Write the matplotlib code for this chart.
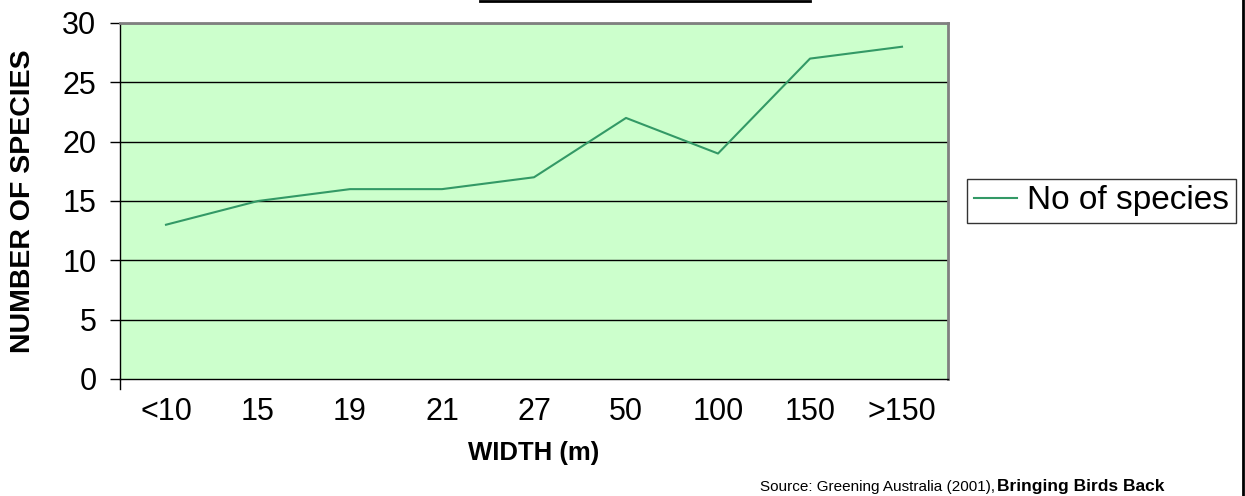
import matplotlib
matplotlib.use('Agg')
import matplotlib.pyplot as plt
from matplotlib.lines import Line2D

plt.rcParams['font.family'] = ['Liberation Sans', 'DejaVu Sans']

widths = ['<10', '15', '19', '21', '27', '50', '100', '150', '>150']
species = [13, 15, 16, 16, 17, 22, 19, 27, 28]

fig = plt.figure(figsize=(12.45, 4.96), dpi=100)
ax = fig.add_axes([120/1245, 1 - 379/496, 828/1245, 356/496])
ax.set_facecolor('#CCFFCC')

x = list(range(len(widths)))
ax.plot(x, species, color='#339966', lw=1.5, label='No of species')

ax.set_xlim(-0.5, len(widths) - 0.5)
ax.set_ylim(0, 30)
ax.set_yticks(range(0, 31, 5))
for yv in range(5, 31, 5):
    ax.axhline(yv, color='black', lw=1, zorder=1)

ax.set_xticks(x)
ax.set_xticklabels(widths)
ax.tick_params(axis='x', length=0, pad=13, labelsize=22)
ax.tick_params(axis='y', length=7, width=1, direction='out', pad=10, labelsize=22)
# the one boundary tick at the origin
ax.plot([-0.5, -0.5], [0, -10/356], transform=ax.get_xaxis_transform(), color='black',
        lw=1, clip_on=False)

for side in ['top', 'right']:
    ax.spines[side].set_color('#808080')
    ax.spines[side].set_linewidth(2)
for side in ['left', 'bottom']:
    ax.spines[side].set_color('black')
    ax.spines[side].set_linewidth(1)

ax.set_ylabel('NUMBER OF SPECIES', fontsize=20.5, fontweight='bold', labelpad=19)
ax.set_xlabel('WIDTH (m)', fontsize=18.5, fontweight='bold', labelpad=10)

leg = fig.legend(loc='center left', bbox_to_anchor=(967/1245, 1 - 201/496), fontsize=24,
                 frameon=True, fancybox=False, edgecolor='black', handlelength=1.3,
                 borderpad=0.2, handletextpad=0.3, borderaxespad=0)
leg.get_frame().set_linewidth(1)

src = fig.text(760/1245, 2/496, 'Source: Greening Australia (2001), ', fontsize=11,
               va='bottom', ha='left')
fig.text(997/1245, 2/496, 'Bringing Birds Back', fontsize=12.5, fontweight='bold',
         va='bottom', ha='left')

# bottom edge of the title box, cut off at the top of the picture
fig.add_artist(Line2D([480/1245, 810/1245], [1 - 0.8/496, 1 - 0.8/496], color='black', lw=2))
# right border
fig.add_artist(Line2D([1243/1245, 1243/1245], [0, 1], color='black', lw=2))

fig.savefig('out.png', dpi=100)
